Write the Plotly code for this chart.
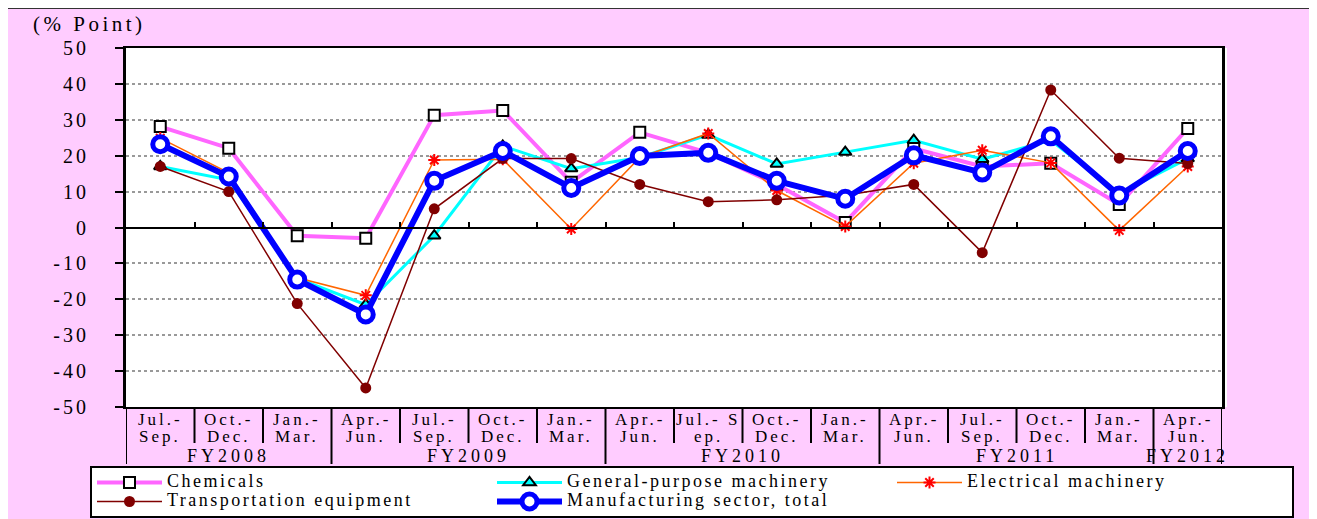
import plotly.graph_objects as go

# ---------------- data ----------------
fiscal_years = ["FY2008"] * 3 + ["FY2009"] * 4 + ["FY2010"] * 4 + ["FY2011"] * 4 + ["FY2012"]
quarters = ["Jul.-<br>Sep.", "Oct.-<br>Dec.", "Jan.-<br>Mar.",
            "Apr.-<br>Jun.", "Jul.-<br>Sep.", "Oct.-<br>Dec.", "Jan.-<br>Mar.",
            "Apr.-<br>Jun.", "Jul.- S<br>ep.", "Oct.-<br>Dec.", "Jan.-<br>Mar.",
            "Apr.-<br>Jun.", "Jul.-<br>Sep.", "Oct.-<br>Dec.", "Jan.-<br>Mar.",
            "Apr.-<br>Jun."]

chemicals = [28.1, 22.1, -2.3, -3.0, 31.3, 32.6, 12.6, 26.5, 20.8, 12.0, 1.4, 22.0, 17.0, 17.9, 6.4, 27.6]
general_purpose = [17.0, 13.3, -14.2, -21.5, -2.3, 22.7, 16.4, 19.5, 25.8, 17.7, 21.0, 24.3, 19.0, 24.3, 9.5, 19.2]
electrical = [24.9, 15.2, -14.0, -18.9, 18.8, 19.0, -0.4, 19.5, 26.2, 10.3, 0.3, 17.9, 21.5, 18.0, -0.8, 17.0]
transport = [17.0, 10.0, -21.2, -44.7, 5.2, 19.2, 19.2, 12.0, 7.2, 7.7, 9.0, 12.0, -7.0, 38.3, 19.3, 17.8]
manufacturing_total = [23.2, 14.2, -14.5, -24.2, 13.0, 21.3, 11.0, 19.9, 20.8, 13.0, 8.0, 20.1, 15.3, 25.4, 8.9, 21.3]

y_tick_values = [50, 40, 30, 20, 10, 0, -10, -20, -30, -40, -50]
y_tick_labels = ["50", "40", "30", "20", "10", "0", "-10", "-20", "-30", "-40", "-50"]
y_unit_label = "(% Point)"

# ---------------- helpers ----------------
SERIF = "Liberation Serif, Times New Roman, serif"
OFF = 8  # the page body adds an 8 px margin


def spaced(text, px=2, size=None):
    style = f"letter-spacing:{px}px" + (f";font-size:{size}px" if size else "")
    return "<br>".join(f'<span style="{style}">{part}</span>' for part in text.split("<br>"))


W, H = 1317 - OFF, 519 - OFF
L, R, T, B = 126 - OFF, 1222 - OFF, 48 - OFF, 407 - OFF


def px_x(x):  # reference pixel -> paper
    return (x - OFF - L) / (R - L)


def px_y(y):
    return (B - (y - OFF)) / (B - T)


n = len(quarters)
x_idx = list(range(n))

fig = go.Figure()

series = [
    ("Chemicals", chemicals, dict(color="#FF66FF", width=4),
     dict(symbol="square", size=11, color="white", line=dict(color="black", width=2))),
    ("General-purpose machinery", general_purpose, dict(color="#00FFFF", width=3),
     dict(symbol="triangle-up", size=11, color="#00FFFF", line=dict(color="black", width=2))),
    ("Electrical machinery", electrical, dict(color="#FF6600", width=1.5),
     dict(symbol="asterisk", size=10, color="#FF0000", line=dict(color="#FF0000", width=2))),
    ("Transportation equipment", transport, dict(color="#800000", width=1.5),
     dict(symbol="circle", size=11, color="#800000", line=dict(color="#800000", width=0))),
    ("Manufacturing sector, total", manufacturing_total, dict(color="#0000FF", width=6),
     dict(symbol="circle", size=15, color="white", line=dict(color="#0000FF", width=5))),
]

for name, vals, line, marker in series:
    fig.add_trace(go.Scatter(
        x=x_idx, y=vals, name=spaced(name, 2.5, 18), mode="lines+markers",
        line=line, marker=marker, hoverinfo="skip",
    ))

# helper trace for the crossing axis (tick marks on the zero line)
fig.add_trace(go.Scatter(
    x=x_idx, y=manufacturing_total, xaxis="x2", yaxis="y",
    mode="lines", opacity=0, showlegend=False, hoverinfo="skip",
))

shapes = [
    # pink chart area
    dict(type="rect", xref="paper", yref="paper", layer="below",
         x0=px_x(7), x1=px_x(1320), y0=px_y(525), y1=px_y(8),
         fillcolor="#FFCCFF", line=dict(color="#333333", width=2)),
    # white plot area
    dict(type="rect", xref="paper", yref="paper", layer="below",
         x0=0, x1=px_x(1227), y0=0, y1=1,
         fillcolor="white", line=dict(width=0)),
]
annotations = [dict(
    text=spaced(y_unit_label, 3.5), xref="paper", yref="paper",
    x=px_x(89), y=px_y(24), xanchor="center", yanchor="middle",
    showarrow=False, font=dict(family=SERIF, size=21, color="black"),
)]

# category boundaries: short ticks inside a year, long dividers between years
for i in range(-1, n):
    b = i + 0.5
    is_divider = i == -1 or i == n - 1 or fiscal_years[i] != fiscal_years[i + 1]
    shapes.append(dict(type="line", xref="x", yref="paper",
                       x0=b, x1=b, y0=0, y1=px_y(464 if is_divider else 443),
                       line=dict(color="black", width=2)))

# quarter labels (two tight lines) under each category
for i, q in enumerate(quarters):
    for line_text, yy in zip(q.split("<br>"), (420, 436)):
        annotations.append(dict(
            text=spaced(line_text, 3), xref="x", yref="paper",
            x=i, y=px_y(yy), xanchor="center", yanchor="middle",
            showarrow=False, font=dict(family=SERIF, size=17, color="black"),
        ))

# fiscal-year labels centred under their quarters
for fy in dict.fromkeys(fiscal_years):
    idx = [i for i, f in enumerate(fiscal_years) if f == fy]
    annotations.append(dict(
        text=spaced(fy, 4), xref="x", yref="paper",
        x=sum(idx) / len(idx), y=px_y(456), xanchor="center", yanchor="middle",
        showarrow=False, font=dict(family=SERIF, size=18, color="black"),
    ))

fig.update_layout(
    width=W, height=H,
    margin=dict(l=L, r=W - R, t=T, b=H - B, autoexpand=False),
    paper_bgcolor="white",
    plot_bgcolor="white",
    font=dict(family=SERIF, size=17, color="black"),
    showlegend=True,
    legend=dict(
        orientation="h", x=px_x(90), y=px_y(518), xanchor="left", yanchor="bottom",
        bgcolor="white", bordercolor="black", borderwidth=2,
        entrywidth=320, entrywidthmode="pixels", itemwidth=65,
        font=dict(family=SERIF, size=12, color="black"),
        tracegroupgap=0,
    ),
    xaxis=dict(
        range=[-0.5, n - 0.5], tickvals=x_idx, showticklabels=False,
        showline=True, linecolor="black", linewidth=2, mirror=True,
        ticks="", showgrid=False, zeroline=False,
    ),
    xaxis2=dict(
        overlaying="x", anchor="free", position=0.5, side="bottom",
        range=[-0.5, n - 0.5], showgrid=False, zeroline=False,
        showline=True, linecolor="black", linewidth=2,
        ticks="inside", ticklen=5, tickwidth=2, tickcolor="black",
        tickvals=[i + 0.5 for i in range(n - 1)], showticklabels=False,
    ),
    yaxis=dict(
        range=[-50, 50], tickvals=y_tick_values,
        ticktext=[spaced(t, 3) for t in y_tick_labels],
        showline=True, linecolor="black", linewidth=3, mirror=True,
        ticks="outside", ticklen=8, tickwidth=2, tickcolor="black",
        ticklabelstandoff=22,
        showgrid=True, gridcolor="#999999", griddash="dot", gridwidth=1.5,
        zeroline=False,
        tickfont=dict(family=SERIF, size=20, color="black"),
    ),
    shapes=shapes,
    annotations=annotations,
)

fig.write_html("out.html")
